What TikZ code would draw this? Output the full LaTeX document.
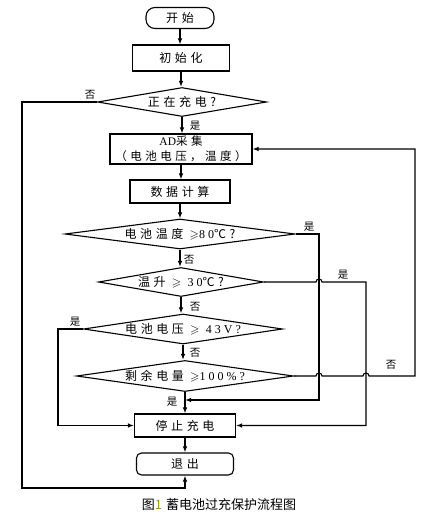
\documentclass[tikz,border=0pt]{standalone}
\usepackage{amssymb}
\usepackage{fontspec}
\setmainfont{Liberation Serif}[LetterSpace=25]
\newfontfamily\cjk{Noto Sans CJK SC}[LetterSpace=30]
\newfontfamily\capfont{Noto Sans CJK SC}
\usetikzlibrary{shapes.geometric,arrows.meta}
\definecolor{capgold}{RGB}{170,140,40}
\newcommand\dtext[1]{\raisebox{-0.38em}[0pt][0pt]{\makebox[0pt]{#1}}}
\begin{document}
\begin{tikzpicture}[x=1pt,y=-1pt,line width=1.1pt,
  >={Latex[length=6pt,width=4.5pt]},
  box/.style={draw,rectangle,inner sep=0pt,font=\fontsize{12}{14}\selectfont\cjk},
  term/.style={box,rounded corners=#1},
  dia/.style={draw,diamond,inner sep=0pt,font=\fontsize{12}{14}\selectfont\cjk},
  lab/.style={inner sep=0pt,font=\fontsize{10.5}{11}\selectfont\capfont},
  arr/.style={->}]
\useasboundingbox (0,0) rectangle (439,522);
% nodes
\node[term=9pt,minimum width=68pt,minimum height=21pt] (start) at (180,18) {开始};
\node[box,minimum width=97pt,minimum height=26pt] (init) at (181,58) {初始化};
\node[dia,minimum width=169pt,minimum height=29pt] (D1) at (182,102) {\dtext{正在充电?}};
\node[box,minimum width=142pt,minimum height=30pt,align=center,font=\fontsize{11.5}{14.5}\selectfont\cjk] (AD) at (181,149) {{\rmfamily\addfontfeature{LetterSpace=0}AD}采集\\（电池电压，温度）};
\node[box,minimum width=100pt,minimum height=23pt] (calc) at (180,191.5) {数据计算};
\node[dia,minimum width=230pt,minimum height=30pt] (D2) at (180,234) {\dtext{电池温度 $\geqslant${\rmfamily 80}℃?}};
\node[dia,minimum width=165pt,minimum height=29pt] (D3) at (181,282) {\dtext{温升 $\geqslant$ {\rmfamily 30}℃?}};
\node[dia,minimum width=199pt,minimum height=30pt] (D4) at (183,329) {\dtext{电池电压 $\geqslant$ {\rmfamily 43V?}}};
\node[dia,minimum width=217pt,minimum height=31pt] (D5) at (185,376) {\dtext{剩余电量 $\geqslant${\rmfamily 100\%?}}};
\node[box,minimum width=101pt,minimum height=23pt] (stop) at (185,425.5) {停止充电};
\node[term=5pt,minimum width=97pt,minimum height=22pt] (exit) at (185,464) {退出};
% helper coordinates
\coordinate (xL) at (22,0);
\coordinate (yB) at (0,488);
\coordinate (x2) at (319,0);
\coordinate (x3) at (366,0);
\coordinate (x4) at (415,0);
\coordinate (x5) at (58,0);
\coordinate (j1) at (185,400);
% main flow
\draw[arr] (start.south) -- (start.south |- init.north);
\draw[arr] (init.south) -- (init.south |- D1.north);
\draw[arr] (D1.south) -- (D1.south |- AD.north);
\draw[arr] (AD.south) -- (AD.south |- calc.north);
\draw[arr] (calc.south) -- (calc.south |- D2.north);
\draw[arr] (D2.south) -- (D2.south |- D3.north);
\draw[arr] (D3.south) -- (D3.south |- D4.north);
\draw[arr] (D4.south) -- (D4.south |- D5.north);
\draw[arr] (D5.south) -- (D5.south |- stop.north);
\draw[arr] (stop.south) -- (stop.south |- exit.north);
% branches
\draw[arr] (D1.west) -- (D1.west -| xL) -- (xL |- yB) -- (exit.south |- yB) -- (exit.south);
\draw[arr] (D2.east) -- (D2.east -| x2) -- (x2 |- j1) -- (j1);
\draw[arr] (D3.east) -- ([xshift=-3pt]D3.east -| x2) arc[start angle=180,end angle=360,radius=3] -- (D3.east -| x3) -- (x3 |- stop.east) -- (stop.east);
\draw[arr] (D4.west) -- (D4.west -| x5) -- (x5 |- stop.west) -- (stop.west);
\draw[arr] (D5.east) -- ([xshift=-3pt]D5.east -| x2) arc[start angle=180,end angle=360,radius=3] -- ([xshift=-3pt]D5.east -| x3) arc[start angle=180,end angle=360,radius=3] -- (D5.east -| x4) -- (x4 |- AD.east) -- (AD.east);
% labels
\node[lab] (l1) at (90,95) {否};
\node[lab] (l2) at (195,126) {是};
\node[lab] (l3) at (309,227) {是};
\node[lab] (l4) at (189,260) {否};
\node[lab] (l5) at (343,275) {是};
\node[lab] (l6) at (195,307) {否};
\node[lab] (l7) at (75,322) {是};
\node[lab] (l8) at (195,353) {否};
\node[lab] (l9) at (391,365) {否};
\node[lab] (l10) at (172,402) {是};
% caption
\node[inner sep=0pt,font=\fontsize{13}{14}\selectfont\capfont] (cap) at (219,505) {图{\color{capgold}1}\hspace{4pt}蓄电池过充保护流程图};
\end{tikzpicture}
\end{document}
